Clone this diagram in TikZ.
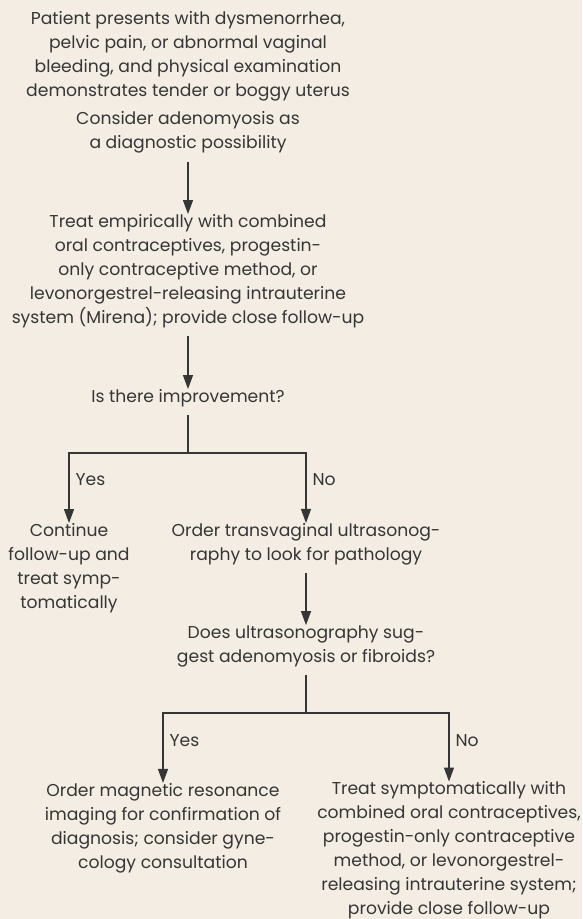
\documentclass[tikz,border=0pt]{standalone}
\usepackage{fontspec}
\setmainfont{Poppins}
\usetikzlibrary{arrows.meta}
\definecolor{paper}{HTML}{F3EDE4}
\definecolor{ink}{HTML}{363636}
\tikzstyle{plain} = [align=center, text=ink, inner sep=0pt, font=\fontsize{17.2}{24}\selectfont]
\tikzstyle{answer} = [text=ink, inner sep=0pt, anchor=west, xshift=6pt, font=\fontsize{17.2}{24}\selectfont]
\tikzstyle{line} = [draw=ink, line width=1.2pt]
\tikzstyle{stem} = [line, shorten <=8pt]
\tikzstyle{arrow} = [stem, -{Triangle[length=14pt,width=10pt]}]
\tikzstyle{branch} = [line, -{Triangle[length=14pt,width=10pt]}]

\begin{document}
\begin{tikzpicture}[x=1pt, y=-1pt]
\fill [paper] (0,0) rectangle (582,919);
\useasboundingbox (0,0) rectangle (582,919);

% Nodes
\node (patient) [plain] at (188,56) {Patient presents with dysmenorrhea,\\pelvic pain, or abnormal vaginal\\bleeding, and physical examination\\demonstrates tender or boggy uterus};
\node (consider) [plain, below of=patient, node distance=76.7pt] {Consider adenomyosis as\\a diagnostic possibility};
\node (treat) [plain, below of=consider, node distance=138.3pt] {Treat empirically with combined\\oral contraceptives, progestin-\\only contraceptive method, or\\levonorgestrel-releasing intrauterine\\system (Mirena); provide close follow-up};
\node (improve) [plain, below of=treat, node distance=127pt] {Is there improvement?};
\node (continue) [plain, below of=improve, node distance=170pt, xshift=-119pt] {Continue\\follow-up and\\treat symp-\\tomatically};
\node (order) [plain, below of=improve, node distance=146pt, xshift=118pt] {Order transvaginal ultrasonog-\\raphy to look for pathology};
\node (suggest) [plain, below of=order, node distance=102pt] {Does ultrasonography sug-\\gest adenomyosis or fibroids?};
\node (mri) [plain, below of=suggest, node distance=182pt, xshift=-143pt] {Order magnetic resonance\\imaging for confirmation of\\diagnosis; consider gyne-\\cology consultation};
\node (symptom) [plain, below of=suggest, node distance=204.5pt, xshift=143pt] {Treat symptomatically with\\combined oral contraceptives,\\progestin-only contraceptive\\method, or levonorgestrel-\\releasing intrauterine system;\\provide close follow-up};

\coordinate (split1) at (188,453);
\coordinate (split2) at (306,713);

% Arrows
\draw [arrow] (consider) -- (treat);
\draw [arrow] (treat) -- (improve);
\draw [stem] (improve) -- (split1);
\draw [branch] (split1) -| node[answer, pos=0.69] {Yes} (continue);
\draw [branch] (split1) -| node[answer, pos=0.69] {No} (order);
\draw [arrow] (order) -- (suggest);
\draw [stem] (suggest) -- (split2);
\draw [branch] (split2) -| node[answer, pos=0.7] {Yes} (mri);
\draw [branch] (split2) -| node[answer, pos=0.7] {No} (symptom);

\end{tikzpicture}
\end{document}
